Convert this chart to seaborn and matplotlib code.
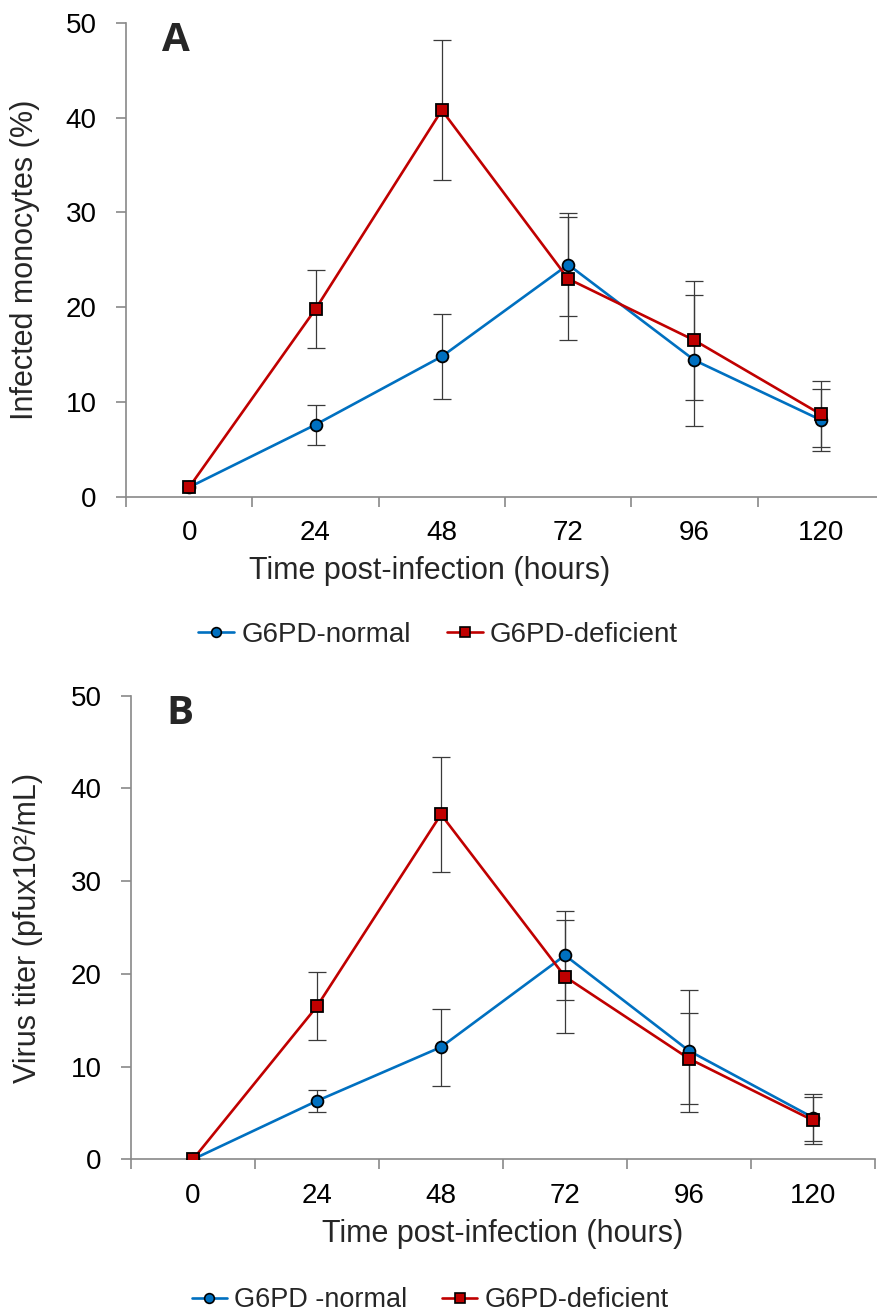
import numpy as np
import pandas as pd
import matplotlib
matplotlib.use("Agg")
import matplotlib.pyplot as plt
import seaborn as sns
from matplotlib.lines import Line2D
from matplotlib.ticker import FixedLocator

# data
hours = [0, 24, 48, 72, 96, 120]
tick_labels = ["0", "24", "48", "72", "96", "120"]
groups = ["G6PD-normal", "G6PD-deficient"]

# panel A - infected monocytes (%)
a_normal = [1.0, 7.6, 14.8, 24.5, 14.4, 8.1]
a_normal_err = [0, 2.1, 4.5, 5.4, 6.9, 3.3]
a_defic = [1.0, 19.8, 40.8, 23.0, 16.5, 8.7]
a_defic_err = [0, 4.1, 7.4, 6.5, 6.3, 3.5]

# panel B - virus titer
b_normal = [0, 6.3, 12.1, 22.0, 11.7, 4.5]
b_normal_err = [0, 1.15, 4.15, 4.8, 6.6, 2.55]
b_defic = [0, 16.5, 37.2, 19.7, 10.85, 4.2]
b_defic_err = [0, 3.65, 6.2, 6.1, 4.9, 2.55]

blue = "#0070C0"
red = "#C00000"
spine_col = "#898989"

sns.set_theme(style="white")
plt.rcParams["font.family"] = ["Liberation Sans", "DejaVu Sans"]

fig = plt.figure(figsize=(8.78, 13.11), dpi=100)
axA = fig.add_axes([126 / 878, 1 - 496.7 / 1311, 758 / 878, 473.7 / 1311])
axB = fig.add_axes([131 / 878, 1 - 1159.3 / 1311, 744 / 878, 463.6 / 1311])


def draw_panel(ax, normal, normal_err, defic, defic_err, ylabel, letter, letter_y,
               ylab_x, xlab_xy, leg_names, leg_xy, leg_size):
    df = pd.DataFrame({
        "hours": hours * 2,
        "value": normal + defic,
        "group": [groups[0]] * 6 + [groups[1]] * 6,
    })
    for vals, errs in [(normal, normal_err), (defic, defic_err)]:
        keep = [i for i, e in enumerate(errs) if e > 0]
        ax.errorbar([hours[i] for i in keep], [vals[i] for i in keep],
                    yerr=[errs[i] for i in keep], fmt="none", ecolor="#3a3a3a",
                    elinewidth=0.9, capsize=6.5, capthick=0.9, zorder=2)
    sns.lineplot(data=df, x="hours", y="value", hue="group", style="group",
                 palette={groups[0]: blue, groups[1]: red},
                 markers={groups[0]: "o", groups[1]: "s"}, dashes=False,
                 markersize=8.5, markeredgecolor="black", markeredgewidth=1.3,
                 linewidth=1.9, legend=False, ax=ax, zorder=3)

    ax.set_xlim(-12, 132)
    ax.set_ylim(0, 50)
    ax.set_xticks(hours)
    ax.set_xticklabels(tick_labels)
    ax.xaxis.set_minor_locator(FixedLocator([-12, 12, 36, 60, 84, 108, 132]))
    ax.set_yticks([0, 10, 20, 30, 40, 50])
    ax.tick_params(axis="x", which="major", length=0, pad=17, labelsize=20, colors="black")
    ax.tick_params(axis="x", which="minor", length=7, width=1.2, color=spine_col, direction="out", bottom=True)
    ax.tick_params(axis="y", length=7, width=1.2, color=spine_col, pad=14, labelsize=20,
                   labelcolor="black", direction="out", left=True)
    for s in ["top", "right"]:
        ax.spines[s].set_visible(False)
    for s in ["left", "bottom"]:
        ax.spines[s].set_color(spine_col)
        ax.spines[s].set_linewidth(1.2)
    ax.set_xlabel("Time post-infection (hours)", fontsize=22)
    ax.set_ylabel(ylabel, fontsize=22)
    ax.xaxis.set_label_coords(*xlab_xy)
    ax.yaxis.set_label_coords(ylab_x, 0.5)
    ax.text(0.048, letter_y, letter, transform=ax.transAxes, fontsize=29,
            fontweight="bold", family=["Open Sans", "DejaVu Sans"], va="top", ha="left")

    handles = [
        Line2D([], [], color=blue, lw=1.9, marker="o", markersize=7,
               markerfacecolor=blue, markeredgecolor="black", markeredgewidth=1.2),
        Line2D([], [], color=red, lw=1.9, marker="s", markersize=7,
               markerfacecolor=red, markeredgecolor="black", markeredgewidth=1.2),
    ]
    fig.legend(handles, leg_names, loc="center", bbox_to_anchor=leg_xy,
               ncol=2, frameon=False, fontsize=leg_size, handlelength=1.3,
               handletextpad=0.25, columnspacing=1.3)


draw_panel(axA, a_normal, a_normal_err, a_defic, a_defic_err,
           "Infected monocytes (%)", "A", 1.005, -0.113, (0.40, -0.125),
           ["G6PD-normal", "G6PD-deficient"], (438 / 878, 1 - 635 / 1311), 20)
draw_panel(axB, b_normal, b_normal_err, b_defic, b_defic_err,
           "Virus titer (pfux10²/mL)", "B", 1.003, -0.118, (0.50, -0.128),
           ["G6PD -normal", "G6PD-deficient"], (430 / 878, 1 - 1300 / 1311), 19.5)

fig.savefig("out.png", dpi=100)
